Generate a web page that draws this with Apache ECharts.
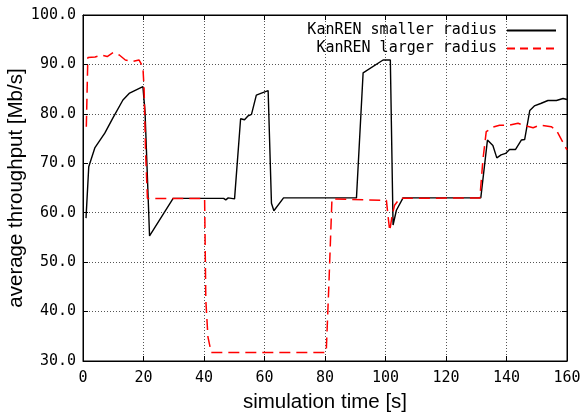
<!DOCTYPE html>
<html>
<head>
<meta charset="utf-8">
<script src="https://cdn.jsdelivr.net/npm/echarts@6/dist/echarts.min.js"></script>
<style>
html,body{margin:0;padding:0;background:#fff;}
#chart{width:586px;height:413px;}
</style>
</head>
<body>
<div id="chart"></div>
<script>
// ---- data ----
const seriesNames = ['KanREN smaller radius', 'KanREN larger radius'];
const xTicks = [0, 20, 40, 60, 80, 100, 120, 140, 160];
const yTicks = [30, 40, 50, 60, 70, 80, 90, 100];

const smallT = [1, 1.9, 3.9, 7.2, 9.9, 13.2, 15.4, 19.8, 20.5, 22, 29.8, 46.5, 47.2, 48, 50.1, 52.1, 53.4, 54.6, 55.7, 57.3, 59.0, 61.2, 62.3, 63.1, 66.3, 90.4, 92.6, 99.2, 101.6, 102.5, 103.6, 105.8, 131.5, 133.7, 135.5, 136.8, 138.2, 139.7, 141, 143, 144.9, 146, 147.7, 149.2, 151.3, 153.7, 156.5, 158.7, 160];
const smallV = [58.9, 69.3, 73.1, 76.1, 79.2, 82.8, 84.2, 85.5, 80.5, 55.3, 62.9, 62.9, 62.6, 63.0, 62.8, 79.0, 78.8, 79.6, 79.9, 83.8, 84.2, 84.7, 61.9, 60.4, 63.0, 63.0, 88.3, 90.9, 90.9, 57.5, 60.5, 63.0, 63.0, 74.7, 73.6, 71.1, 71.7, 72.0, 72.8, 72.8, 74.7, 74.8, 80.7, 81.6, 82.1, 82.7, 82.7, 83.1, 82.9];

const largeT = [1.1, 1.6, 4, 6, 8, 10, 12, 14, 16.5, 18.5, 19.8, 20.2, 20.7, 21.3, 37, 37.5, 38, 40.2, 40.6, 41.3, 42.4, 80.4, 81.3, 82.3, 100.3, 100.9, 101.4, 102.2, 103.0, 104.7, 131.2, 132.2, 133.3, 135.5, 137.7, 141, 143.8, 146.2, 148.8, 151, 154.8, 156.5, 160];
const largeV = [77.4, 91.4, 91.5, 91.9, 91.6, 92.4, 91.9, 90.9, 90.6, 90.9, 89.5, 85, 72, 62.9, 62.9, 62.7, 62.9, 62.9, 42.3, 34.9, 31.7, 31.7, 45.7, 62.8, 62.5, 59, 56.3, 59.5, 61.5, 62.9, 63.0, 70.7, 76.4, 77.3, 77.7, 77.7, 78.1, 77.6, 77.2, 77.7, 77.4, 76.7, 72.7];

const pairs = (t, v) => t.map((x, i) => [x, v[i]]);

const mono = 'DejaVu Sans Mono';
const sans = 'Liberation Sans';

const chart = echarts.init(document.getElementById('chart'), null, {renderer: 'canvas'});

const tickInside = {show: true, inside: true, length: 5, lineStyle: {color: '#000', width: 1}};
const gridDots = {show: true, lineStyle: {color: '#555', width: 1, type: [1, 2]}};

const legendBase = {
  right: 29, align: 'right', orient: 'vertical',
  itemWidth: 49, itemHeight: 14, padding: 0,
  itemStyle: {opacity: 0},
  textStyle: {fontFamily: mono, fontSize: 15, color: '#000', padding: [0, 5, 0, 0]}
};

chart.setOption({
  animation: false,
  backgroundColor: '#fff',
  grid: {left: 83, right: 19, top: 15, bottom: 52, show: true, borderColor: '#000', borderWidth: 1,
         containLabel: false, outerBoundsMode: 'none'},
  legend: [
    Object.assign({}, legendBase, {data: [seriesNames[0]], top: 23}),
    Object.assign({}, legendBase, {data: [seriesNames[1]], top: 41, lineStyle: {type: [8, 5]}})
  ],
  xAxis: [
    {
      type: 'value', min: xTicks[0], max: xTicks[xTicks.length - 1], interval: 20,
      name: 'simulation time [s]', nameLocation: 'middle', nameGap: 31, nameMoveOverlap: false,
      nameTextStyle: {fontFamily: sans, fontSize: 20.5, color: '#000'},
      axisLine: {show: true, onZero: false, lineStyle: {color: '#000', width: 1}},
      axisTick: tickInside,
      axisLabel: {fontFamily: mono, fontSize: 15, color: '#000', margin: 10},
      splitLine: gridDots
    },
    {
      type: 'value', position: 'top', min: xTicks[0], max: xTicks[xTicks.length - 1], interval: 20,
      axisLine: {show: true, onZero: false, lineStyle: {color: '#000', width: 1}},
      axisTick: tickInside, axisLabel: {show: false}, splitLine: {show: false}
    }
  ],
  yAxis: [
    {
      type: 'value', min: yTicks[0], max: yTicks[yTicks.length - 1], interval: 10,
      name: 'average throughput [Mb/s]', nameLocation: 'middle', nameGap: 56, nameMoveOverlap: false,
      nameTextStyle: {fontFamily: sans, fontSize: 20.5, color: '#000'},
      axisLine: {show: true, onZero: false, lineStyle: {color: '#000', width: 1}},
      axisTick: tickInside,
      axisLabel: {fontFamily: mono, fontSize: 15, color: '#000', margin: 7, formatter: v => v.toFixed(1)},
      splitLine: gridDots
    },
    {
      type: 'value', position: 'right', min: yTicks[0], max: yTicks[yTicks.length - 1], interval: 10,
      axisLine: {show: true, onZero: false, lineStyle: {color: '#000', width: 1}},
      axisTick: tickInside, axisLabel: {show: false}, splitLine: {show: false}
    }
  ],
  series: [
    {
      name: seriesNames[0], type: 'line', data: pairs(smallT, smallV),
      showSymbol: false, symbol: 'none', smooth: false,
      lineStyle: {color: '#000', width: 1.4}, itemStyle: {color: '#000'}
    },
    {
      name: seriesNames[1], type: 'line', data: pairs(largeT, largeV),
      showSymbol: false, symbol: 'none', smooth: false,
      lineStyle: {color: '#ff0000', width: 1.5, type: [11, 6]}, itemStyle: {color: '#ff0000'}
    }
  ]
});
</script>
</body>
</html>
